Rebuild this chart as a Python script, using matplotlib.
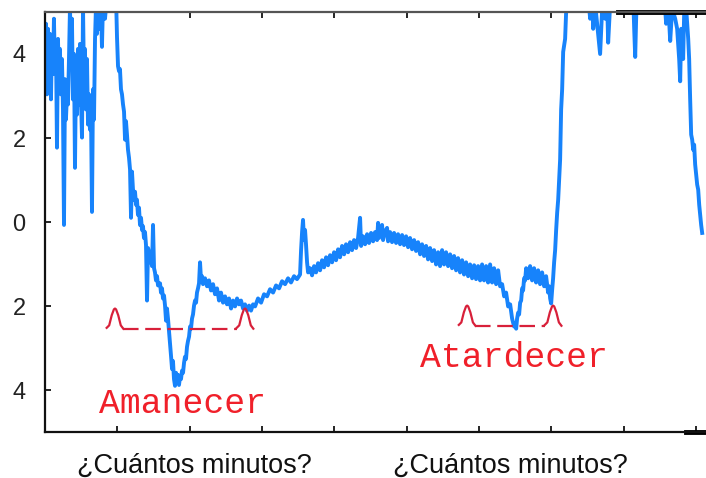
import matplotlib.pyplot as plt
import numpy as np

# señal (minutos, valor)
t = [0, 0.14, 0.28, 0.41, 0.55, 0.69, 0.83, 0.97, 1.11, 1.24, 1.38, 1.52, 1.66, 1.80, 1.94,
     2.07, 2.21, 2.35, 2.49, 2.63, 2.77, 2.90, 3.04, 3.18, 3.32, 3.46, 3.60, 3.73, 3.87, 4.01,
     4.15, 4.29, 4.43, 4.56, 4.70, 4.84, 4.98, 5.12, 5.26, 5.39, 5.53, 5.67, 5.81, 5.95, 6.09,
     6.22, 6.36, 6.50, 6.64, 6.78, 6.92, 7.05, 7.19, 7.33, 7.61, 7.75, 7.88, 8.02, 8.30, 8.58,
     9.27, 9.82, 9.96, 10.10, 10.24, 10.37, 10.51, 10.65, 10.79, 10.93, 11.07, 11.20, 11.34,
     11.48, 11.62, 11.76, 11.90, 12.03, 12.17, 12.31, 12.45, 12.59, 12.72, 12.86, 13.00, 13.14,
     13.28, 13.42, 13.55, 13.69, 13.83, 13.97, 14.11, 14.25, 14.38, 14.52, 14.66, 14.80, 14.94,
     15.08, 15.21, 15.35, 15.49, 15.63, 15.91, 16.04, 16.18, 16.32, 16.46, 16.60, 16.74, 16.87,
     17.01, 17.15, 17.29, 17.43, 17.57, 17.70, 17.84, 17.98, 18.12, 18.26, 18.40, 18.53, 18.67,
     18.81, 18.95, 19.09, 19.23, 19.36, 19.50, 19.64, 19.78, 19.92, 20.06, 20.19, 20.33, 20.47,
     20.61, 20.75, 20.89, 21.02, 21.16, 21.30, 21.44, 21.58, 21.72, 21.85, 22.13, 22.41, 22.68,
     22.96, 23.24, 23.51, 23.79, 24.07, 24.34, 24.62, 24.90, 25.17, 25.45, 25.73, 26.00, 26.28,
     26.56, 26.83, 27.11, 27.39, 27.66, 27.94, 28.22, 28.49, 28.77, 29.05, 29.46, 29.88, 30.29,
     30.71, 31.12, 31.54, 31.95, 32.37, 32.78, 33.20, 33.61, 34.02, 34.44, 34.85, 35.27, 35.41,
     35.55, 35.68, 35.82, 35.96, 36.10, 36.24, 36.38, 36.65, 36.93, 37.21, 37.48, 37.76, 38.04,
     38.31, 38.59, 38.87, 39.14, 39.42, 39.70, 39.97, 40.25, 40.53, 40.80, 41.08, 41.36, 41.63,
     41.91, 42.19, 42.46, 42.74, 43.02, 43.29, 43.57, 43.71, 43.98, 44.26, 44.54, 44.81, 45.09,
     45.37, 45.64, 45.92, 46.06, 46.20, 46.47, 46.61, 46.75, 47.03, 47.30, 47.44, 47.72, 47.99,
     48.27, 48.55, 48.82, 49.10, 49.38, 49.65, 49.93, 50.21, 50.48, 50.76, 51.04, 51.31, 51.59,
     51.87, 52.14, 52.42, 52.70, 52.97, 53.25, 53.53, 53.80, 54.08, 54.36, 54.63, 54.91, 55.19,
     55.46, 55.74, 56.02, 56.29, 56.57, 56.85, 57.12, 57.40, 57.68, 57.95, 58.23, 58.51, 58.78,
     59.06, 59.34, 59.61, 59.89, 60.17, 60.44, 60.72, 61.00, 61.27, 61.55, 61.83, 62.10, 62.38,
     62.66, 62.93, 63.21, 63.49, 63.76, 64.04, 64.32, 64.59, 64.87, 65.01, 65.15, 65.28, 65.42,
     65.56, 65.70, 65.84, 65.98, 66.11, 66.25, 66.39, 66.53, 66.80, 67.08, 67.36, 67.63, 67.91,
     68.19, 68.46, 68.74, 69.02, 69.29, 69.57, 69.71, 69.85, 69.99, 70.12, 70.26, 70.40, 70.54,
     70.68, 70.82, 70.96, 71.09, 71.23, 71.37, 71.51, 71.65, 71.92, 72.06, 72.20, 75.10, 75.38,
     75.66, 75.80, 76.07, 76.49, 76.76, 77.04, 77.46, 77.73, 77.87, 78.15, 78.42, 81.33, 81.47,
     81.61, 81.74, 81.88, 85.62, 85.89, 86.17, 86.45, 86.72, 87.14, 87.41, 87.69, 87.83, 87.97,
     88.24, 88.38, 88.66, 88.94, 89.07, 89.21, 89.35, 89.49, 89.63, 89.76, 89.90, 90.04, 90.18,
     90.32, 90.46, 90.59, 90.73, 90.87]
v = [3.88, 4.72, 3.04, 4.60, 3.28, 4.48, 2.92, 4.36, 3.52, 4.84, 3.64, 4.24, 1.77, 4.36, 3.16,
     4.12, 3.04, 3.88, 2.68, -0.07, 3.40, 2.44, 3.04, 2.80, 3.88, 5.12, 3.64, 4.84, 2.92, 4.00,
     1.29, 3.64, 2.56, 4.12, 2.80, 4.24, 2.92, 2.01, 5.12, 3.40, 4.12, 2.68, 3.88, 2.32, 3.04,
     2.20, 2.68, 0.24, 3.16, 2.44, 4.36, 5.12, 4.48, 5.08, 4.60, 5.12, 4.17, 5.20, 4.84, 5.40,
     5.40, 5.40, 4.40, 3.71, 3.59, 3.64, 3.16, 3.04, 2.80, 2.63, 1.96, 2.40, 2.08,
     1.72, 1.53, 1.25, 0.10, 1.20, 0.77, 0.53, 0.72, 0.41, 0.53, 0.17, 0.34, -0.07,
     0.10, -0.19, -0.10, -0.38, -0.24, -0.55, -1.87, -0.62, -0.72, -0.96, -0.81, -1.05, -0.07,
     -1.10, -1.20, -1.39, -1.29, -1.51, -1.46, -1.68, -1.58, -1.82, -1.75, -1.99, -2.35, -2.06,
     -2.30, -2.59, -2.87, -3.19, -3.50, -3.31, -3.74, -3.90, -3.59, -3.78, -3.64, -3.88, -3.69,
     -3.74, -3.54, -3.59, -3.35, -3.21, -3.26, -2.97, -2.83, -2.73, -2.49, -2.54, -2.30, -2.20,
     -1.99, -1.87, -1.92, -1.68, -1.58, -1.46, -0.96, -1.39, -1.29, -1.48, -1.34, -1.53, -1.39,
     -1.63, -1.48, -1.72, -1.58, -1.87, -1.68, -1.92, -1.77, -1.96, -1.82, -2.06, -1.87, -2.01,
     -1.82, -1.96, -1.87, -2.06, -1.96, -2.11, -1.99, -2.11, -1.96, -2.01, -1.82, -1.92, -1.72,
     -1.77, -1.60, -1.68, -1.51, -1.58, -1.41, -1.48, -1.34, -1.44, -1.29, -1.36, -1.25, -0.67,
     -0.24, 0.05, -0.43, -0.19, -0.55, -0.96, -1.20, -1.10, -1.27, -1.05, -1.20, -0.98, -1.15,
     -0.91, -1.08, -0.84, -1.03, -0.79, -0.96, -0.72, -0.91, -0.65, -0.84, -0.57, -0.77, -0.53,
     -0.72, -0.48, -0.67, -0.43, -0.62, -0.38, 0.10, -0.57, -0.34, -0.53, -0.29, -0.50, -0.26,
     -0.46, -0.24, -0.43, -0.02, -0.38, -0.24, -0.07, -0.43, -0.22, -0.14, -0.46, -0.24, -0.48,
     -0.26, -0.50, -0.29, -0.53, -0.31, -0.55, -0.34, -0.60, -0.38, -0.65, -0.43, -0.69, -0.48,
     -0.77, -0.53, -0.81, -0.57, -0.89, -0.62, -0.93, -0.67, -1.01, -0.72, -1.05, -0.67, -1.01,
     -0.72, -1.05, -0.77, -1.10, -0.81, -1.15, -0.86, -1.20, -0.91, -1.25, -0.96, -1.29, -1.01,
     -1.34, -1.03, -1.36, -1.05, -1.39, -1.01, -1.39, -1.05, -1.44, -1.01, -1.44, -1.10, -1.48,
     -1.15, -1.53, -1.48, -1.77, -1.68, -2.01, -1.96, -2.30, -2.49, -2.40, -2.54, -2.30, -2.16,
     -2.20, -1.92, -1.87, -1.58, -1.63, -1.34, -1.39, -1.10, -1.34, -1.05, -1.39, -1.10, -1.44,
     -1.15, -1.48, -1.20, -1.53, -1.29, -1.68, -1.53, -1.82, -1.94, -1.63, -1.34, -0.96, -0.67,
     -0.19, 0.22, 0.53, 1.01, 1.49, 2.68, 3.16, 4.05, 4.36, 5.00, 5.40, 5.40, 4.84,
     5.40, 4.60, 5.20, 4.48, 4.00, 5.08, 4.84, 5.25, 4.27, 5.20, 5.40, 5.40, 4.60,
     3.93, 4.84, 5.40, 5.40, 4.72, 5.20, 4.31, 5.08, 4.84, 4.60, 3.88, 3.35, 4.60,
     3.88, 4.96, 5.08, 4.36, 3.88, 2.92, 2.08, 1.96, 1.72, 1.84, 1.37, 1.13, 0.89,
     0.77, 0.41, 0.17, -0.07, -0.26]

y_ticks = [-4, -2, 0, 2, 4]
y_tick_labels = ['4', '2', '0', '2', '4']
x_ticks = [0, 10, 20, 30, 40, 50, 60, 70, 80, 90]

# corchetes rojos: centro de cada joroba y nivel base
hump_dx = [-1.15, -0.8, -0.45, -0.15, 0, 0.15, 0.45, 0.8, 1.15]
hump_dy = [0.02, 0.08, 0.32, 0.46, 0.48, 0.46, 0.32, 0.08, 0.0]
bracket_left = [9.68, 58.37]
bracket_right = [27.66, 70.26]
bracket_base = [-2.54, -2.47]

event_names = ['Amanecer', 'Atardecer']
event_x = [18.95, 64.87]
event_y = [-4.31, -3.23]

question = '¿Cuántos minutos?'
question_x = [20.7, 64.3]

fig = plt.figure(figsize=(7.06, 4.78), dpi=100)
ax = fig.add_axes([0.0637, 0.0962, 0.9363, 0.8787])

ax.plot(t, v, color='#1783fb', lw=2.8, solid_joinstyle='round')

red = '#d8203a'
for xl, xr, yb in zip(bracket_left, bracket_right, bracket_base):
    for xc in (xl, xr):
        ax.plot([xc + d for d in hump_dx], [yb + d for d in hump_dy], color=red, lw=1.6)
    ax.plot([xl + hump_dx[-1], xr + hump_dx[0]], [yb, yb], color=red, lw=1.6,
            linestyle=(0, (7, 3)))

for name, x, y in zip(event_names, event_x, event_y):
    ax.text(x, y, name, color='#f0202a', fontsize=25, family='Liberation Mono',
            ha='center', va='center')

for x in question_x:
    ax.text(x, -0.08, question, transform=ax.get_xaxis_transform(), fontsize=19.5,
            family='Liberation Sans', ha='center', va='center', color='#111111')

ax.set_xlim(0, 91.4)
ax.set_ylim(-5, 5)
ax.set_yticks(y_ticks)
ax.set_yticklabels(y_tick_labels, family='Liberation Sans', fontsize=17, color='#222222')
ax.set_xticks(x_ticks)
ax.set_xticklabels([])
ax.tick_params(axis='y', direction='in', length=4, width=1.2, pad=14)
ax.tick_params(axis='x', direction='in', length=4, width=1.2, top=True)

ax.spines['right'].set_visible(False)
for s in ('left', 'bottom'):
    ax.spines[s].set_linewidth(1.6)
    ax.spines[s].set_color('#111111')
ax.spines['top'].set_linewidth(1.6)
ax.spines['top'].set_color('#555555')
ax.axhline(5, xmin=0.867, xmax=1.0, color='black', lw=3.5, clip_on=False)
ax.axhline(-5, xmin=0.97, xmax=1.0, color='black', lw=3.5, clip_on=False)

plt.savefig('out.png', dpi=100)
plt.close()
